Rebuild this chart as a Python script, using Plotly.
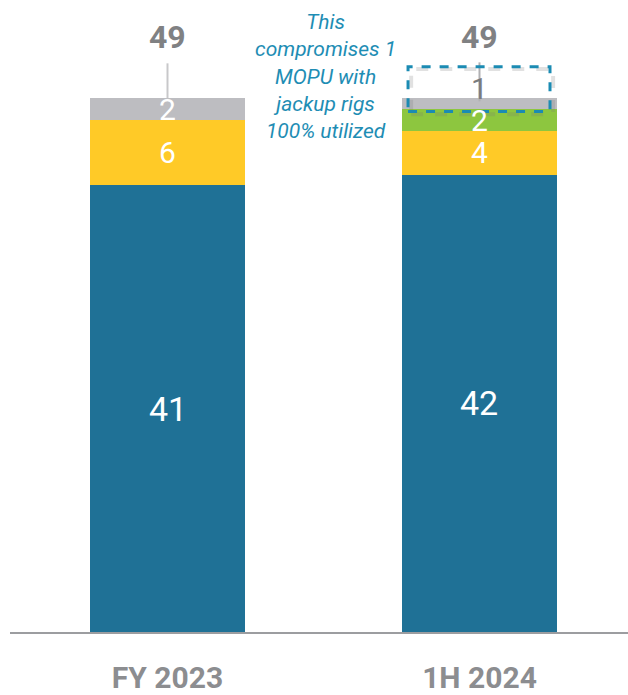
import plotly.graph_objects as go

# Rig counts by period (stacked segments, bottom to top)
periods = ["FY 2023", "1H 2024"]
x_pos = [0, 1]
seg_blue = [41, 42]
seg_yellow = [6, 4]
seg_green = [0, 2]
seg_gray = [2, 1]
totals = [49, 49]

c_blue = "#1F7196"
c_yellow = "#FFCA27"
c_green = "#8DC63F"
c_gray = "#BDBDC1"
c_label = "#808183"
c_note = "#1E8DB4"

FONT = "Roboto"
bar_w = 0.497
fig = go.Figure()
series = [("blue", seg_blue, c_blue), ("yellow", seg_yellow, c_yellow),
          ("green", seg_green, c_green), ("gray", seg_gray, c_gray)]
for name, vals, col in series:
    fig.add_trace(go.Bar(x=x_pos, y=vals, name=name, marker=dict(color=col, line=dict(width=0)),
                         width=bar_w, showlegend=False, hoverinfo="skip"))

# Segment labels centred on each segment
annotations = []
label_fonts = {"blue": 34, "yellow": 30, "green": 30, "gray": 30}
for i in range(len(x_pos)):
    base = 0
    for name, vals, col in series:
        v = vals[i]
        if v > 0:
            mid = base + v / 2
            if name == "gray" and i == 1:
                # value shown just above the thin top segment
                annotations.append(dict(x=x_pos[i], y=mid, text=str(v), showarrow=False,
                                        yshift=15, font=dict(family=FONT, size=30, color="#7A7B7D")))
            else:
                annotations.append(dict(x=x_pos[i], y=mid, text=str(v), showarrow=False,
                                        font=dict(family=FONT, size=label_fonts[name], color="white")))
        base += v
    # total above each bar
    annotations.append(dict(x=x_pos[i], y=totals[i], text="<b>%d</b>" % totals[i], showarrow=False,
                            yshift=61, font=dict(family=FONT, size=32, color=c_label)))

annotations.append(dict(x=0.505, y=0.9266, xref="x", yref="paper", yanchor="middle", xanchor="center",
                        text="<i>This<br>compromises 1<br>MOPU with<br>jackup rigs<br>100% utilized</i>",
                        showarrow=False, align="center",
                        font=dict(family=FONT, size=21, color=c_note)))

shapes = []
# leader lines from totals down to the bars
shapes.append(dict(type="line", xref="x", yref="y", x0=0, x1=0, ysizemode="pixel", yanchor=totals[0],
                   y0=0, y1=35, line=dict(color="#C8C8CA", width=2)))
shapes.append(dict(type="line", xref="x", yref="y", x0=1, x1=1, ysizemode="pixel", yanchor=totals[1],
                   y0=-3, y1=36, line=dict(color="#B0B0B3", width=2)))
# dashed callout box with soft shadow
shapes.append(dict(type="rect", xref="x", yref="y", x0=0.781, x1=1.236, y0=47.55, y1=51.7,
                   line=dict(color="rgba(120,120,120,0.22)", width=4, dash="dash"), layer="above"))
shapes.append(dict(type="rect", xref="x", yref="y", x0=0.771, x1=1.226, y0=47.8, y1=51.9,
                   line=dict(color="#1B8BB3", width=3, dash="dash"), layer="above"))

fig.update_layout(
    barmode="stack",
    width=628, height=695,
    margin=dict(l=10, r=0, t=33, b=63, autoexpand=False),
    paper_bgcolor="white", plot_bgcolor="white",
    bargap=0,
    annotations=annotations,
    shapes=shapes,
    xaxis=dict(range=[-0.5048, 1.476], tickvals=x_pos, ticktext=["<b>%s</b>" % p for p in periods],
               tickfont=dict(family=FONT, size=30, color="#8C8D90"),
               showline=True, linecolor="#9C9DA0", linewidth=2, showgrid=False, zeroline=False,
               ticks="", ticklabelstandoff=18, automargin=False, fixedrange=True),
    yaxis=dict(range=[0, 55], visible=False, showgrid=False, zeroline=False, fixedrange=True,
               automargin=False),
)

fig.write_html("out.html")
